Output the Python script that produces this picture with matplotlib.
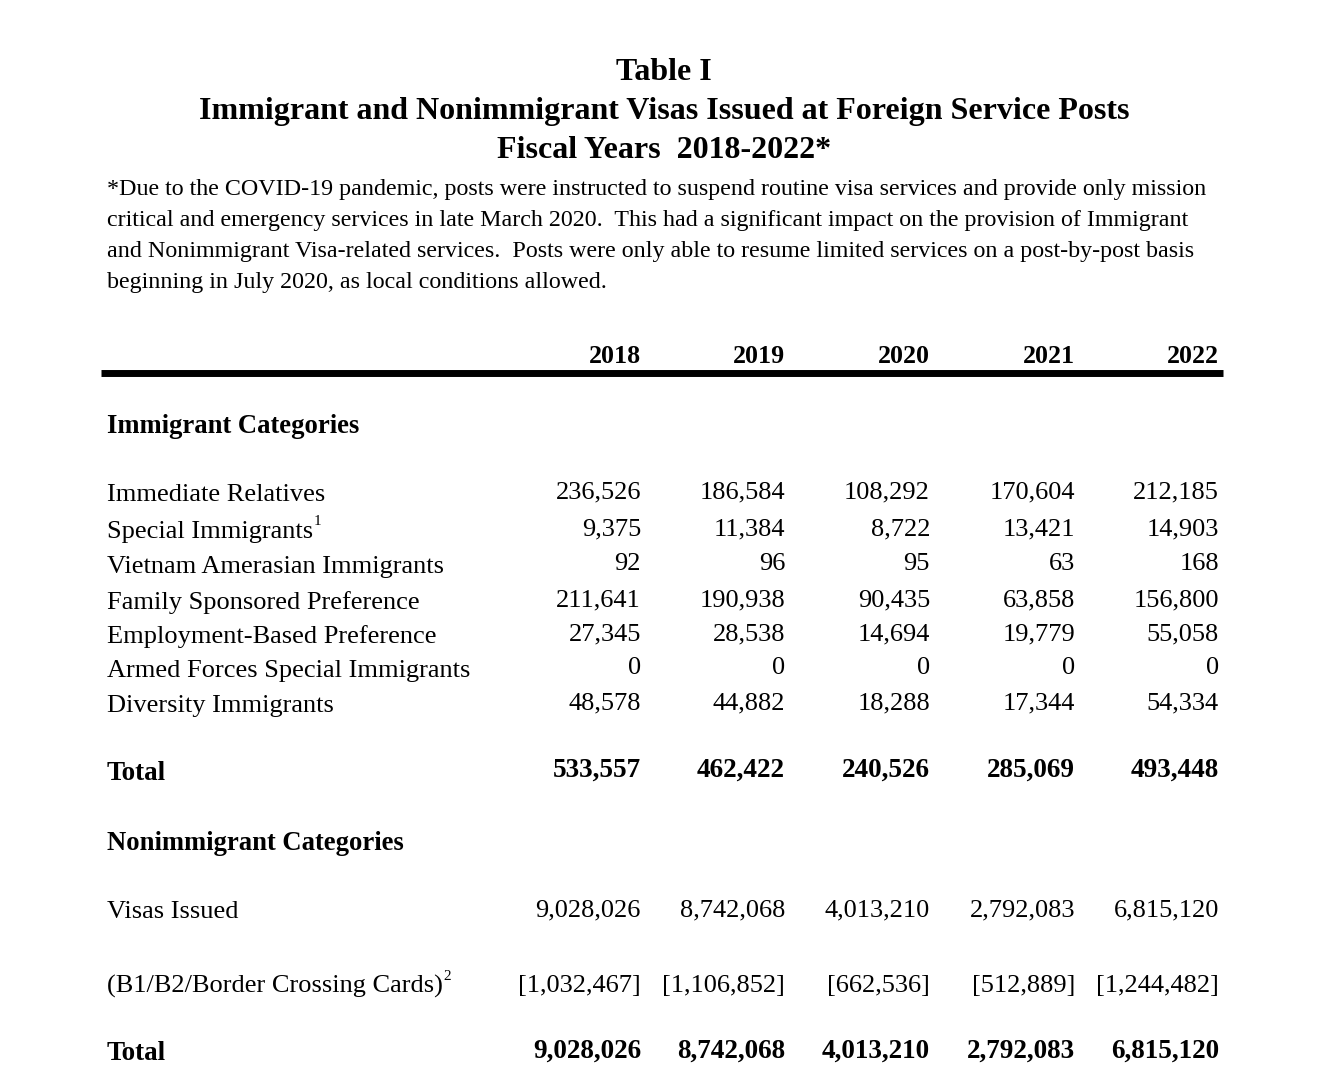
import matplotlib.pyplot as plt

plt.rcParams['font.family'] = ['Liberation Serif', 'DejaVu Serif']

W, H = 1322, 1092

# table data
years = ['2018', '2019', '2020', '2021', '2022']
immigrant_categories = [
    'Immediate Relatives',
    'Special Immigrants',
    'Vietnam Amerasian Immigrants',
    'Family Sponsored Preference',
    'Employment-Based Preference',
    'Armed Forces Special Immigrants',
    'Diversity Immigrants',
]
immediate_relatives = [236526, 186584, 108292, 170604, 212185]
special_immigrants = [9375, 11384, 8722, 13421, 14903]
vietnam_amerasian = [92, 96, 95, 63, 168]
family_sponsored = [211641, 190938, 90435, 63858, 156800]
employment_based = [27345, 28538, 14694, 19779, 55058]
armed_forces = [0, 0, 0, 0, 0]
diversity = [48578, 44882, 18288, 17344, 54334]
immigrant_total = [533557, 462422, 240526, 285069, 493448]
visas_issued = [9028026, 8742068, 4013210, 2792083, 6815120]
b1b2_bcc = [1032467, 1106852, 662536, 512889, 1244482]
nonimmigrant_total = [9028026, 8742068, 4013210, 2792083, 6815120]

immigrant_rows = [immediate_relatives, special_immigrants, vietnam_amerasian,
                  family_sponsored, employment_based, armed_forces, diversity]

title_lines = ['Table I',
               'Immigrant and Nonimmigrant Visas Issued at Foreign Service Posts',
               'Fiscal Years  2018-2022*']
note_lines = [
    '*Due to the COVID-19 pandemic, posts were instructed to suspend routine visa services and provide only mission',
    'critical and emergency services in late March 2020.  This had a significant impact on the provision of Immigrant',
    'and Nonimmigrant Visa-related services.  Posts were only able to resume limited services on a post-by-post basis',
    'beginning in July 2020, as local conditions allowed.',
]

fig = plt.figure(figsize=(W / 100, H / 100), dpi=100)


def txt(x, y, s, **kw):
    # x, y in pixels from the top-left corner, y is the baseline
    kw.setdefault('va', 'baseline')
    kw.setdefault('fontsize', 19)
    return fig.text(x / W, 1 - y / H, s, **kw)


def sup(label_artist, y, s):
    # small raised footnote mark right after a label
    fig.canvas.draw()
    bb = label_artist.get_window_extent()
    txt(bb.x1 + 1, y - 13, s, fontsize=11)


for i, line in enumerate(title_lines):
    txt(664, 80 + i * 39, line, ha='center', fontsize=23, fontweight='bold')

for i, line in enumerate(note_lines):
    txt(107, 195 + i * 31, line, fontsize=17.3)

col_x = [641, 785, 930, 1075, 1219]
for x, yr in zip(col_x, years):
    txt(x, 363, yr, ha='right', fontsize=18.7, fontweight='bold')

fig.add_artist(plt.Line2D([101 / W, 1223 / W], [1 - 373 / H] * 2, color='black', lw=5,
                          transform=fig.transFigure, solid_capstyle='butt'))

txt(107, 433, 'Immigrant Categories', fontweight='bold', fontsize=19.2)

label_y = [501, 538, 573, 609, 643, 677, 712]
for y, name, vals in zip(label_y, immigrant_categories, immigrant_rows):
    t = txt(107, y, name)
    if name == 'Special Immigrants':
        sup(t, y, '1')
    for x, v in zip(col_x, vals):
        txt(x, y - 3, f'{v:,}', ha='right')

txt(107, 780, 'Total', fontweight='bold', fontsize=19.5)
for x, v in zip(col_x, immigrant_total):
    txt(x, 777, f'{v:,}', ha='right', fontweight='bold', fontsize=19.5)

txt(107, 850, 'Nonimmigrant Categories', fontweight='bold', fontsize=19.2)

txt(107, 918, 'Visas Issued')
for x, v in zip(col_x, visas_issued):
    txt(x, 916, f'{v:,}', ha='right')

t = txt(107, 993, '(B1/B2/Border Crossing Cards)')
sup(t, 993, '2')
for x, v in zip(col_x, b1b2_bcc):
    txt(x, 992, f'[{v:,}]', ha='right')

txt(107, 1060, 'Total', fontweight='bold', fontsize=19.5)
for x, v in zip(col_x, nonimmigrant_total):
    txt(x, 1058, f'{v:,}', ha='right', fontweight='bold', fontsize=19.5)

fig.savefig('out.png', dpi=100, facecolor='white')
